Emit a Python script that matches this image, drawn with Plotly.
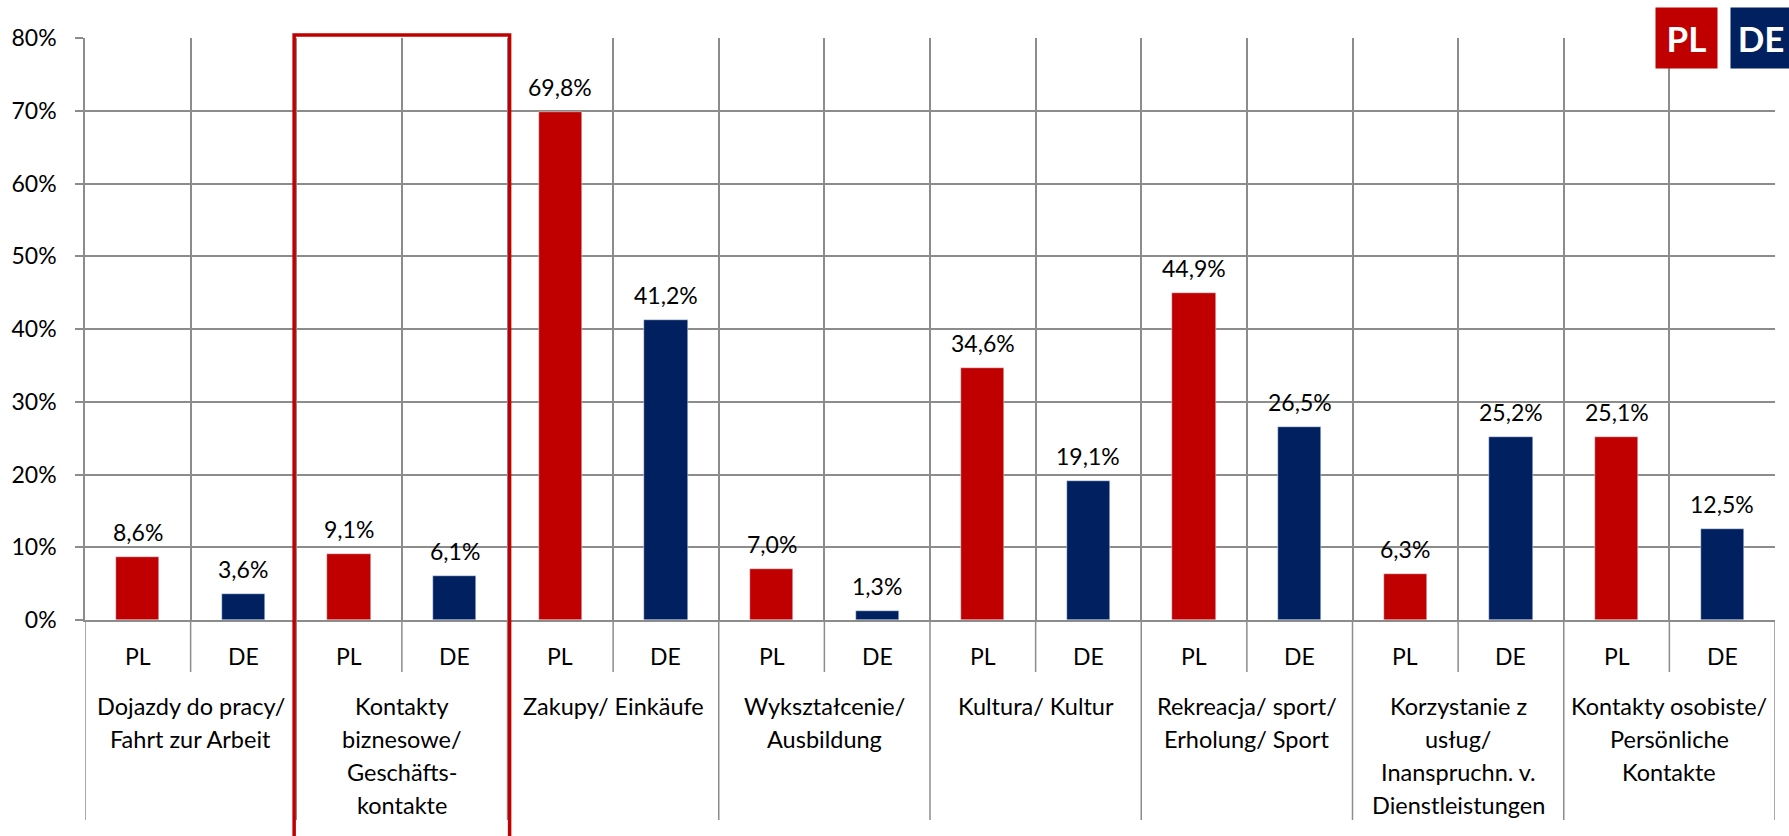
import plotly.graph_objects as go

categories = [
    "Dojazdy do pracy/\nFahrt zur Arbeit",
    "Kontakty\nbiznesowe/\nGeschäfts-\nkontakte",
    "Zakupy/ Einkäufe",
    "Wykształcenie/\nAusbildung",
    "Kultura/ Kultur",
    "Rekreacja/ sport/\nErholung/ Sport",
    "Korzystanie z\nusług/\nInanspruchn. v.\nDienstleistungen",
    "Kontakty osobiste/\nPersönliche\nKontakte",
]
series_names = ["PL", "DE"]
pl_values = [8.6, 9.1, 69.8, 7.0, 34.6, 44.9, 6.3, 25.1]
de_values = [3.6, 6.1, 41.2, 1.3, 19.1, 26.5, 25.2, 12.5]
y_ticks = [0, 10, 20, 30, 40, 50, 60, 70, 80]
highlight_index = 1

RED = "#C00000"
NAVY = "#002060"
GRID = "#8C8C8C"
FONT = "Lato"

n = len(categories)
pl_x = [2 * i for i in range(n)]
de_x = [2 * i + 1 for i in range(n)]

fig = go.Figure()
fig.add_bar(x=pl_x, y=[v / 100 for v in pl_values], marker_color=RED, width=0.41,
            name="PL", hoverinfo="skip")
fig.add_bar(x=de_x, y=[v / 100 for v in de_values], marker_color=NAVY, width=0.41,
            name="DE", hoverinfo="skip")

def fmt(v):
    return f"{v:.1f}".replace(".", ",") + "%"

annotations = []
for xs, vals in ((pl_x, pl_values), (de_x, de_values)):
    for x, v in zip(xs, vals):
        annotations.append(dict(x=x, y=v / 100, xref="x", yref="y", text=fmt(v),
                                showarrow=False, yanchor="bottom", yshift=9,
                                font=dict(size=23, color="black", family=FONT)))

# series labels under each bar
for xs, name in ((pl_x, "PL"), (de_x, "DE")):
    for x in xs:
        annotations.append(dict(x=x, y=-0.062, xref="x", yref="paper", text=name,
                                showarrow=False, yanchor="middle",
                                font=dict(size=23, color="black", family=FONT)))

# category labels
line_centers = [706, 739, 772, 805]
for i, cat in enumerate(categories):
    for j, line in enumerate(cat.split("\n")):
        annotations.append(dict(x=2 * i + 0.5, y=(620 - line_centers[j]) / 582,
                                xref="x", yref="paper", text=line, showarrow=False,
                                yanchor="middle",
                                font=dict(size=23.5, color="black", family=FONT)))

# legend boxes
annotations.append(dict(x=0.9477, y=1.0, xref="paper", yref="paper", text="<b>PL</b>",
                        showarrow=False, bgcolor=RED, width=61, height=60,
                        xanchor="center", yanchor="middle", borderpad=0,
                        font=dict(size=35, color="white", family=FONT)))
annotations.append(dict(x=0.9915, y=1.0, xref="paper", yref="paper", text="<b>DE</b>",
                        showarrow=False, bgcolor=NAVY, width=60, height=60,
                        xanchor="center", yanchor="middle", borderpad=0,
                        font=dict(size=35, color="white", family=FONT)))

shapes = []
# separators below the plot
for k in range(2 * n + 1):
    xb = k - 0.5
    long = (k % 2 == 0)
    shapes.append(dict(type="line", xref="x", yref="paper", x0=xb, x1=xb,
                       y0=0, y1=-0.3436 if long else -0.0893,
                       line=dict(color=GRID, width=1.5), layer="below"))
# highlight box
hx0 = 2 * highlight_index - 0.5 - 0.02
hx1 = 2 * highlight_index + 1.5 + 0.02
shapes.append(dict(type="rect", xref="x", yref="paper", x0=hx0, x1=hx1,
                   y0=-0.5, y1=1.005, line=dict(color=RED, width=3.5),
                   fillcolor="rgba(0,0,0,0)", layer="above"))

fig.update_layout(
    width=1789, height=836,
    margin=dict(l=83, r=14, t=38, b=216),
    plot_bgcolor="white", paper_bgcolor="white",
    showlegend=False,
    bargap=0,
    font=dict(family=FONT, size=23, color="black"),
    annotations=annotations,
    shapes=shapes,
    xaxis=dict(range=[-0.5, 2 * n - 0.5], tickvals=[k - 0.5 for k in range(2 * n + 1)],
               showticklabels=False, showgrid=True, gridcolor=GRID, gridwidth=1.5,
               zeroline=False, showline=True, linecolor=GRID, linewidth=1.5,
               ticks="", fixedrange=True),
    yaxis=dict(range=[0, 0.8], tickvals=[t / 100 for t in y_ticks], tickformat=".0%",
               showgrid=True, gridcolor=GRID, gridwidth=1.5, zeroline=False,
               showline=True, linecolor=GRID, linewidth=1.5,
               ticks="outside", ticklen=8, tickcolor=GRID, tickwidth=1.5,
               ticklabelstandoff=14,
               tickfont=dict(size=23, family=FONT, color="black"), fixedrange=True),
)

fig.write_html("out.html", post_script="document.body.style.margin='0';",
               config={"displayModeBar": False})
